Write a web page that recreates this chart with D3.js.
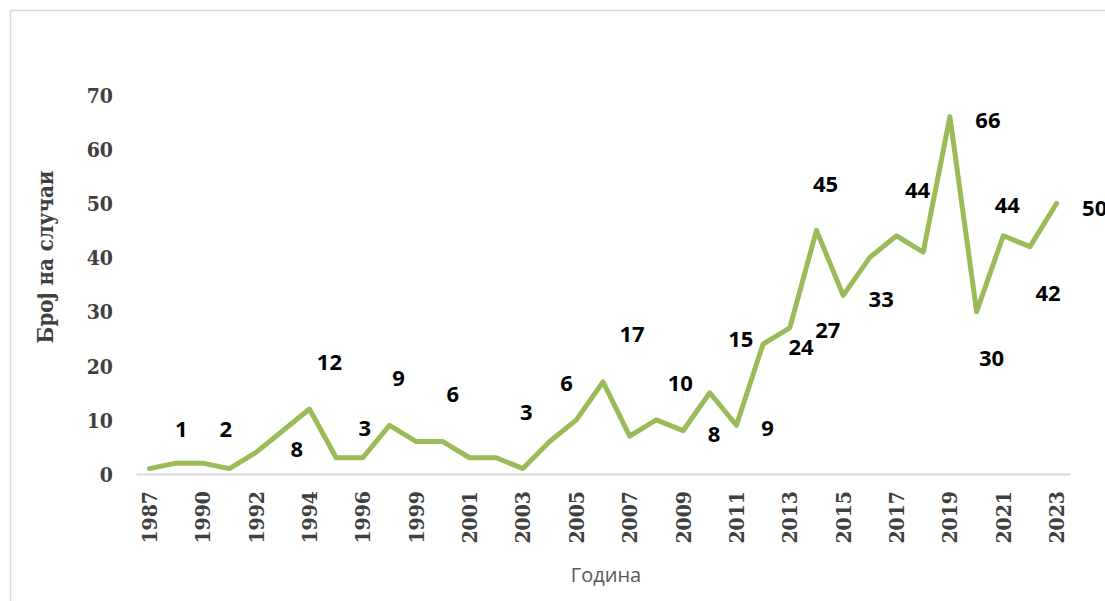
<!DOCTYPE html>
<html>
<head>
<meta charset="utf-8">
<script src="https://cdn.jsdelivr.net/npm/d3@7"></script>
<style>
  html, body { margin: 0; padding: 0; background: #fff; overflow: hidden; }
</style>
</head>
<body>
<div id="canvas"></div>
<script>
// years on the category axis (two years are missing in the source series)
var years = [1987, 1988, 1990, 1991, 1992, 1993, 1994, 1995, 1996, 1997, 1999, 2000,
  2001, 2002, 2003, 2004, 2005, 2006, 2007, 2008, 2009, 2010, 2011, 2012, 2013,
  2014, 2015, 2016, 2017, 2018, 2019, 2020, 2021, 2022, 2023];
// number of cases per year
var cases = [1, 2, 2, 1, 4, 8, 12, 3, 3, 9, 6, 6, 3, 3, 1, 6, 10, 17, 7, 10, 8, 15,
  9, 24, 27, 45, 33, 40, 44, 41, 66, 30, 44, 42, 50];
var yTicks = [0, 10, 20, 30, 40, 50, 60, 70];
// which points carry a data label
var labelIdx = [0, 2, 5, 6, 8, 9, 11, 13, 15, 17, 19, 20, 21, 22, 23, 24, 25, 26, 28,
  30, 31, 32, 33, 34];

// label nudges in px relative to the point (layout only)
var labelNudge = [[32,-41],[23,-35],[14,17],[20,-48],[2,-31],[9,-48],[10,-49],[30,-47],
  [17,-60],[29,-49],[24,-38],[31,2],[31,-55],[31,2],[38,2],[38,1],[9,-47],[38,3],
  [21,-47],[38,2],[15,45],[4,-32],[18,45],[38,4]];

var width = 1105;
var height = 601;
var serif = "'DejaVu Serif Condensed', 'DejaVu Serif', serif";
var sans = "'Open Sans', 'Noto Sans', sans-serif";

var svg = d3.select("#canvas").append("svg")
  .attr("width", width)
  .attr("height", height);

// chart frame (runs off the right and bottom of the picture)
svg.append("rect")
  .attr("x", 10.5).attr("y", 10.5)
  .attr("width", 1200).attr("height", 700)
  .attr("fill", "#fff")
  .attr("stroke", "#d9d9d9")
  .attr("stroke-width", 1.5);

var x = d3.scaleBand().domain(years).range([136, 1070]).padding(0);
var y = d3.scaleLinear().domain([0, 70]).range([474, 95]);
var cx = function(i){ return x(years[i]) + x.bandwidth() / 2; };

// y axis labels
var yAxis = d3.axisLeft(y).tickValues(yTicks).tickSize(0).tickPadding(0);
var gy = svg.append("g").attr("transform", "translate(113,0)").call(yAxis);
gy.select(".domain").remove();
gy.selectAll("text")
  .attr("font-family", serif)
  .attr("font-weight", "bold")
  .attr("font-size", 21)
  .attr("fill", "#404040")
  .attr("dy", "0.35em");

// x axis
var xAxis = d3.axisBottom(x)
  .tickValues(years.filter(function(d, i){ return i % 2 === 0; }))
  .tickSize(0).tickPadding(0);
var gx = svg.append("g").attr("transform", "translate(0," + y(0) + ")").call(xAxis);
gx.select(".domain").attr("stroke", "#d9d9d9").attr("stroke-width", 2);
gx.selectAll("text")
  .attr("font-family", serif)
  .attr("font-weight", "bold")
  .attr("font-size", 21)
  .attr("fill", "#404040")
  .attr("text-anchor", "end")
  .attr("dy", null)
  .attr("y", 0)
  .attr("transform", "translate(0,17) rotate(-90)")
  .attr("dominant-baseline", "central");

// line
var line = d3.line()
  .x(function(d, i){ return cx(i); })
  .y(function(d){ return y(d); });

svg.append("path")
  .datum(cases)
  .attr("d", line)
  .attr("fill", "none")
  .attr("stroke", "#9bbb59")
  .attr("stroke-width", 5)
  .attr("stroke-linejoin", "round")
  .attr("stroke-linecap", "round");

// data labels
svg.append("g").selectAll("text")
  .data(labelIdx)
  .enter().append("text")
  .attr("x", function(d, k){ return cx(d) + labelNudge[k][0]; })
  .attr("y", function(d, k){ return y(cases[d]) + labelNudge[k][1]; })
  .attr("text-anchor", "middle")
  .attr("dominant-baseline", "central")
  .attr("font-family", sans)
  .attr("font-weight", "bold")
  .attr("font-size", 22)
  .attr("fill", "#000")
  .text(function(d){ return cases[d]; });

// axis titles
svg.append("text")
  .attr("transform", "translate(45,257) rotate(-90)")
  .attr("text-anchor", "middle")
  .attr("dominant-baseline", "central")
  .attr("font-family", serif)
  .attr("font-weight", "bold")
  .attr("font-size", 22)
  .attr("fill", "#404040")
  .text("Број на случаи");

svg.append("text")
  .attr("x", 606)
  .attr("y", 582)
  .attr("text-anchor", "middle")
  .attr("font-family", sans)
  .attr("font-size", 20)
  .attr("fill", "#595959")
  .text("Година");
</script>
</body>
</html>
